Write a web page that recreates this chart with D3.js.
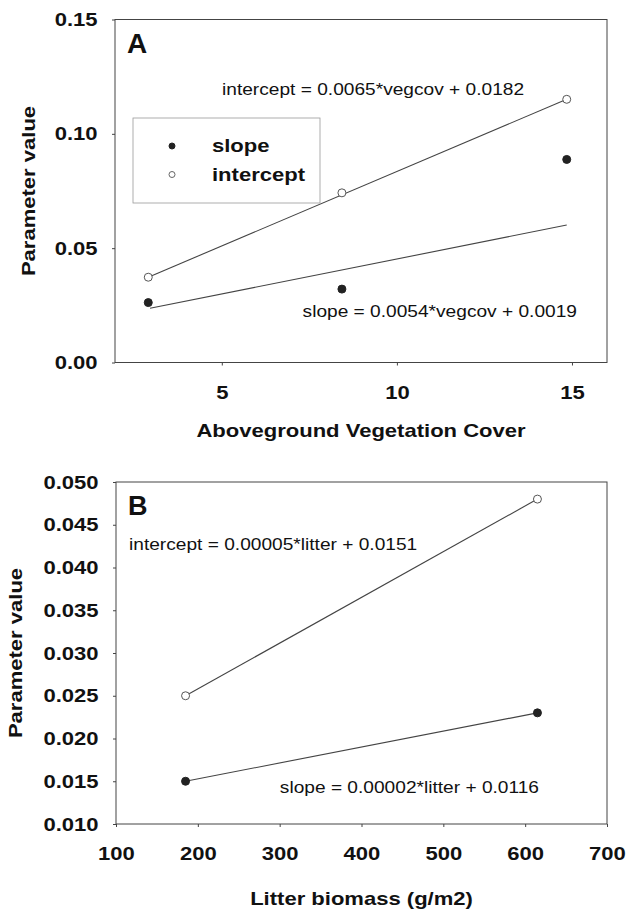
<!DOCTYPE html>
<html>
<head>
<meta charset="utf-8">
<script src="https://cdn.jsdelivr.net/npm/d3@7"></script>
<style>
  body { margin: 0; background: #fff; }
  text { font-family: "Liberation Sans", Arial, sans-serif; fill: #111; }
</style>
</head>
<body>
<div id="chart"></div>
<script>
// --- data ---
// panel A
const vegCover = [2.9, 8.43, 14.85];
const slopeA = [0.0262, 0.0321, 0.0888];
const interceptA = [0.0373, 0.0742, 0.1151];
// fitted lines as drawn (endpoints)
const fitAx = [2.95, 14.85];
const slopeFitA = [0.0237, 0.0601];
const interceptFitA = [0.0373, 0.1151];
const ticksAx = [5, 10, 15];
const ticksAy = [0, 0.05, 0.10, 0.15];
const eqA = ["intercept = 0.0065*vegcov + 0.0182", "slope = 0.0054*vegcov + 0.0019"];

// panel B
const litter = [185, 615];
const slopeB = [0.015, 0.023];
const interceptB = [0.025, 0.048];
const ticksBx = [100, 200, 300, 400, 500, 600, 700];
const ticksBy = [0.010, 0.015, 0.020, 0.025, 0.030, 0.035, 0.040, 0.045, 0.050];
const eqB = ["intercept = 0.00005*litter + 0.0151", "slope = 0.00002*litter + 0.0116"];

const legendLabels = ["slope", "intercept"];

// glyphs in the scan are wider than Arial, so stretch text horizontally
const SX = 1.16;
const stretch = `scale(${SX},1)`;

const svg = d3.select("#chart").append("svg")
  .attr("width", 628)
  .attr("height", 912);

function panel(cfg) {
  const x = d3.scaleLinear().domain(cfg.xDomain).range([cfg.left, cfg.right]);
  const y = d3.scaleLinear().domain(cfg.yDomain).range([cfg.bottom, cfg.top]);
  const g = svg.append("g");

  // frame
  g.append("rect")
    .attr("x", cfg.left).attr("y", cfg.top)
    .attr("width", cfg.right - cfg.left).attr("height", cfg.bottom - cfg.top)
    .attr("fill", "none").attr("stroke", "#444").attr("stroke-width", 1);

  // axes
  const yAxis = g.append("g")
    .attr("transform", `translate(${cfg.left},0)`)
    .call(d3.axisLeft(y).tickValues(cfg.yTicks).tickFormat(d3.format(cfg.yFmt))
      .tickSize(3).tickPadding(12));
  const xAxis = g.append("g")
    .attr("transform", `translate(0,${cfg.bottom})`)
    .call(d3.axisBottom(x).tickValues(cfg.xTicks).tickFormat(d3.format("d"))
      .tickSize(3).tickPadding(20));
  [xAxis, yAxis].forEach(a => {
    a.select(".domain").remove();
    a.selectAll(".tick line").attr("stroke", "#444");
    a.selectAll(".tick text")
      .attr("transform", stretch)
      .style("font-size", "19px")
      .style("font-weight", "bold")
      .style("fill", "#111");
  });

  // axis titles
  g.append("text")
    .attr("transform", `translate(${(cfg.left + cfg.right) / 2},${cfg.xTitleY}) ${stretch}`)
    .attr("text-anchor", "middle")
    .style("font-size", "19px").style("font-weight", "bold")
    .text(cfg.xTitle);
  g.append("text")
    .attr("transform", `translate(${cfg.yTitleX},${(cfg.top + cfg.bottom) / 2}) rotate(-90) ${stretch}`)
    .attr("text-anchor", "middle")
    .style("font-size", "19px").style("font-weight", "bold")
    .text("Parameter value");

  // panel letter
  g.append("text")
    .attr("transform", `translate(${cfg.left + 12},${cfg.top + 33})`)
    .style("font-size", cfg.letterSize + "px").style("font-weight", "bold")
    .text(cfg.letter);

  return { g, x, y };
}

function line(g, x, y, xs, ys) {
  g.append("path")
    .datum(xs.map((d, i) => [d, ys[i]]))
    .attr("fill", "none")
    .attr("stroke", "#444")
    .attr("stroke-width", 1.1)
    .attr("d", d3.line().x(d => x(d[0])).y(d => y(d[1])));
}

function points(g, x, y, xs, ys, filled) {
  g.selectAll(null)
    .data(xs.map((d, i) => [d, ys[i]]))
    .enter().append("circle")
    .attr("cx", d => x(d[0]))
    .attr("cy", d => y(d[1]))
    .attr("r", 4)
    .attr("fill", filled ? "#222" : "#fff")
    .attr("stroke", filled ? "#222" : "#555")
    .attr("stroke-width", 1);
}

function label(g, txt, px, py, anchor) {
  g.append("text")
    .attr("transform", `translate(${px},${py}) ${stretch}`)
    .attr("text-anchor", anchor || "start")
    .style("font-size", "16.5px")
    .text(txt);
}

// --- panel A ---
const A = panel({
  xDomain: [1.95, 16], yDomain: [0, 0.15],
  left: 115, right: 607, top: 19.5, bottom: 362.5,
  xTicks: ticksAx, yTicks: ticksAy, yFmt: ".2f",
  xTitle: "Aboveground Vegetation Cover", xTitleY: 437, yTitleX: 35,
  letter: "A", letterSize: 28
});
line(A.g, A.x, A.y, fitAx, slopeFitA);
line(A.g, A.x, A.y, [vegCover[0], vegCover[2]], interceptFitA);
points(A.g, A.x, A.y, vegCover, slopeA, true);
points(A.g, A.x, A.y, vegCover, interceptA, false);
label(A.g, eqA[0], 222, 95);
label(A.g, eqA[1], 577, 317, "end");

// legend
const leg = A.g.append("g").attr("transform", "translate(133,118)");
leg.append("rect")
  .attr("width", 187).attr("height", 85)
  .attr("fill", "#fff").attr("stroke", "#999").attr("stroke-width", 0.8);
leg.selectAll("circle")
  .data(legendLabels)
  .enter().append("circle")
  .attr("cx", 39)
  .attr("cy", (d, i) => 28 + i * 28.5)
  .attr("r", 3)
  .attr("fill", (d, i) => i === 0 ? "#222" : "#fff")
  .attr("stroke", (d, i) => i === 0 ? "#222" : "#666");
leg.selectAll("text")
  .data(legendLabels)
  .enter().append("text")
  .attr("transform", (d, i) => `translate(79,${34 + i * 28.5}) ${stretch}`)
  .style("font-size", "19px").style("font-weight", "bold")
  .text(d => d);

// --- panel B ---
const B = panel({
  xDomain: [100, 700], yDomain: [0.010, 0.050],
  left: 116, right: 607, top: 482, bottom: 824,
  xTicks: ticksBx, yTicks: ticksBy, yFmt: ".3f",
  xTitle: "Litter biomass (g/m2)", xTitleY: 905, yTitleX: 22,
  letter: "B", letterSize: 27
});
line(B.g, B.x, B.y, litter, slopeB);
line(B.g, B.x, B.y, litter, interceptB);
points(B.g, B.x, B.y, litter, slopeB, true);
points(B.g, B.x, B.y, litter, interceptB, false);
label(B.g, eqB[0], 129, 550);
label(B.g, eqB[1], 539, 793, "end");
</script>
</body>
</html>
